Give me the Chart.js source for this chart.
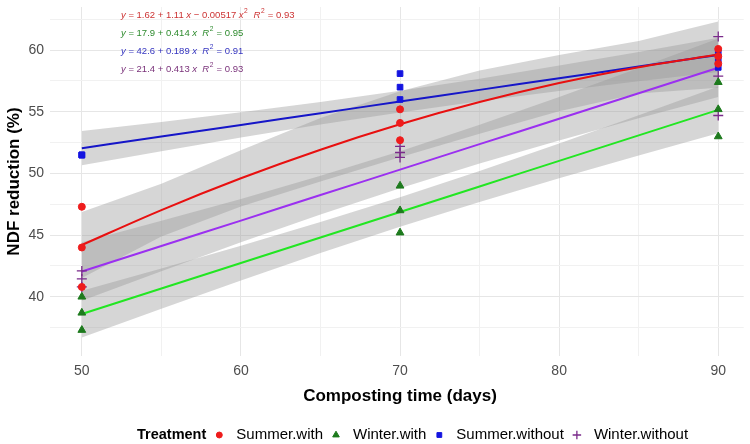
<!DOCTYPE html>
<html><head><meta charset="utf-8">
<script src="https://cdn.jsdelivr.net/npm/chart.js@4/dist/chart.umd.min.js"></script>
<style>html,body{margin:0;padding:0;background:#fff;}</style>
</head><body>
<canvas id="c" width="750" height="444"></canvas>
<script>
// ---- data ----
const treatments = ['Summer.with', 'Winter.with', 'Summer.without', 'Winter.without'];
const pointDays = [50, 50, 50, 70, 70, 70, 90, 90, 90];
const summerWithY   = [47.3, 44.0, 40.8, 55.2, 54.1, 52.7, 60.1, 59.5, 58.9];
const winterWithY   = [40.0, 38.7, 37.3, 49.0, 47.0, 45.2, 57.4, 55.2, 53.0];
const summerWithoutY = [51.5, 51.5, 51.5, 58.1, 57.0, 56.0, 59.8, 59.2, 58.6];
const winterWithoutY = [42.1, 41.45, 40.8, 52.2, 51.7, 51.3, 61.1, 57.9, 54.7];

const fitDays = [50, 55, 60, 65, 70, 75, 80, 85, 90];
const summerWithFit = [44.20, 47.03, 49.61, 51.93, 53.99, 55.79, 57.33, 58.62, 59.64];
const summerWithLo  = [41.52, 44.90, 47.33, 49.36, 51.31, 53.22, 55.05, 56.49, 56.96];
const summerWithHi  = [46.88, 49.16, 51.89, 54.50, 56.67, 58.36, 59.61, 60.75, 62.32];
const winterWithFit = [38.60, 40.67, 42.74, 44.81, 46.88, 48.95, 51.02, 53.09, 55.16];
const winterWithLo  = [36.70, 39.04, 41.33, 43.55, 45.68, 47.69, 49.61, 51.46, 53.26];
const winterWithHi  = [40.50, 42.30, 44.15, 46.07, 48.08, 50.21, 52.43, 54.72, 57.06];
const summerWithoutFit = [52.05, 53.00, 53.94, 54.89, 55.83, 56.78, 57.72, 58.67, 59.61];
const summerWithoutLo  = [50.66, 51.81, 52.91, 53.97, 54.95, 55.86, 56.69, 57.47, 58.22];
const summerWithoutHi  = [53.44, 54.18, 54.97, 55.80, 56.71, 57.69, 58.75, 59.86, 61.00];
const winterWithoutFit = [42.05, 44.12, 46.18, 48.25, 50.31, 52.38, 54.44, 56.51, 58.57];
const winterWithoutLo  = [39.68, 42.08, 44.42, 46.68, 48.81, 50.81, 52.68, 54.47, 56.20];
const winterWithoutHi  = [44.42, 46.16, 47.94, 49.82, 51.81, 53.95, 56.20, 58.55, 60.94];

const equations = [
  'y = 1.62 + 1.11 x \u2212 0.00517 x^2  R^2 = 0.93',
  'y = 17.9 + 0.414 x  R^2 = 0.95',
  'y = 42.6 + 0.189 x  R^2 = 0.91',
  'y = 21.4 + 0.413 x  R^2 = 0.93'
];
const xTickLabels = [50, 60, 70, 80, 90];
const yTickLabels = [40, 45, 50, 55, 60];
const xTitle = 'Composting time (days)';
const yTitle = 'NDF reduction (%)';
const legendTitle = 'Treatment';

// ---- styling ----
const FONT = '"Liberation Sans", Arial, sans-serif';
const pointColors = ['#ee1c1c', '#1d7a1d', '#1414e0', '#7a2a8a'];
const lineColors  = ['#e81010', '#22e622', '#1616c8', '#9b30f0'];
const eqColors    = ['#cc3333', '#2e8b2e', '#3535c0', '#7a327a'];
const pointStyles = ['circle', 'triangle', 'rect', 'cross'];
const pointRadii  = [3.5, 4.5, 4, 5];
const ptY = [summerWithY, winterWithY, summerWithoutY, winterWithoutY];
const fitY = [summerWithFit, winterWithFit, summerWithoutFit, winterWithoutFit];
const loY = [summerWithLo, winterWithLo, summerWithoutLo, winterWithoutLo];
const hiY = [summerWithHi, winterWithHi, summerWithoutHi, winterWithoutHi];

const zip = (xs, ys) => xs.map((x, i) => ({x, y: ys[i]}));
const datasets = [];
treatments.forEach((t, i) => {
  datasets.push({
    label: t, data: zip(pointDays, ptY[i]), showLine: false, order: 0,
    pointStyle: pointStyles[i], pointRadius: pointRadii[i],
    backgroundColor: pointColors[i], borderColor: pointColors[i],
    borderWidth: i === 3 ? 1.3 : 1
  });
});
treatments.forEach((t, i) => {
  datasets.push({
    label: t + ' fit', data: zip(fitDays, fitY[i]), showLine: true, order: 1,
    pointRadius: 0, borderColor: lineColors[i], borderWidth: 2,
    cubicInterpolationMode: 'monotone', fill: false
  });
});
treatments.forEach((t, i) => {
  datasets.push({
    label: t + ' hi', data: zip(fitDays, hiY[i]), showLine: true, order: 2,
    pointRadius: 0, borderWidth: 0, borderColor: 'rgba(0,0,0,0)',
    backgroundColor: 'rgba(153,153,153,0.4)', fill: '+1'
  });
  datasets.push({
    label: t + ' lo', data: zip(fitDays, loY[i]), showLine: true, order: 2,
    pointRadius: 0, borderWidth: 0, borderColor: 'rgba(0,0,0,0)', fill: false
  });
});

const xGrid = [], yGrid = [];
for (let v = 50; v <= 90; v += 5) xGrid.push(v);
for (let v = 37.5; v <= 62.5; v += 2.5) yGrid.push(v);

function drawRich(ctx, str, x, y, color, size) {
  const tokens = str.split(/(\^2|[xyR])/).filter(s => s.length);
  let cx = x;
  ctx.fillStyle = color;
  ctx.textBaseline = 'middle';
  ctx.textAlign = 'left';
  tokens.forEach(tk => {
    if (tk === '^2') {
      ctx.font = (size * 0.7) + 'px ' + FONT;
      ctx.fillText('2', cx + 0.5, y - size * 0.45);
      cx += ctx.measureText('2').width + 1;
    } else if (tk === 'x' || tk === 'y' || tk === 'R') {
      ctx.font = 'italic ' + size + 'px ' + FONT;
      ctx.fillText(tk, cx, y);
      cx += ctx.measureText(tk).width;
    } else {
      ctx.font = size + 'px ' + FONT;
      ctx.fillText(tk, cx, y);
      cx += ctx.measureText(tk).width;
    }
  });
}

const decor = {
  id: 'decor',
  afterDraw(chart) {
    const ctx = chart.ctx, a = chart.chartArea;
    ctx.save();
    ctx.fillStyle = '#000';
    ctx.font = 'bold 17px ' + FONT;
    ctx.textAlign = 'center'; ctx.textBaseline = 'middle';
    ctx.fillText(xTitle, 400, 396);
    ctx.save();
    ctx.translate(14, (a.top + a.bottom) / 2);
    ctx.rotate(-Math.PI / 2);
    ctx.fillText(yTitle, 0, 0);
    ctx.restore();
    equations.forEach((eq, i) => drawRich(ctx, eq, 121, 15 + i * 18, eqColors[i], 9.5));
    let lx = 137; const ly = 435;
    ctx.textBaseline = 'middle'; ctx.textAlign = 'left';
    ctx.font = 'bold 14.5px ' + FONT; ctx.fillStyle = '#000';
    ctx.fillText(legendTitle, lx, ly);
    lx += ctx.measureText(legendTitle).width + 13;
    treatments.forEach((t, i) => {
      ctx.fillStyle = pointColors[i]; ctx.strokeStyle = pointColors[i];
      ctx.lineWidth = i === 3 ? 1.3 : 1;
      Chart.helpers.drawPoint(ctx, {pointStyle: pointStyles[i], radius: pointRadii[i] * 0.85, rotation: 0, borderWidth: ctx.lineWidth}, lx, ly);
      lx += 17;
      ctx.font = '15px ' + FONT; ctx.fillStyle = '#000';
      ctx.fillText(t, lx, ly);
      lx += ctx.measureText(t).width + 13;
    });
    ctx.restore();
  }
};

new Chart(document.getElementById('c'), {
  type: 'scatter',
  data: {datasets},
  plugins: [decor],
  options: {
    responsive: false, animation: false,
    layout: {padding: {left: 0, right: 0, top: 7, bottom: 0}},
    plugins: {legend: {display: false}, tooltip: {enabled: false}},
    scales: {
      x: {
        type: 'linear', min: 48, max: 91.6,
        afterBuildTicks: s => { s.ticks = xGrid.map(v => ({value: v})); },
        afterFit: s => { s.height = 88; s.paddingLeft = 0; s.paddingRight = 0; },
        border: {display: false},
        grid: {
          drawTicks: false,
          color: c => (c.tick && xTickLabels.includes(c.tick.value)) ? '#e6e6e6' : '#f1f1f1',
          lineWidth: 1
        },
        ticks: {
          autoSkip: false, maxRotation: 0, padding: 7, color: '#4d4d4d',
          font: {family: FONT, size: 14},
          callback: v => xTickLabels.includes(v) ? String(v) : ''
        }
      },
      y: {
        type: 'linear', min: 35.2, max: 63.5,
        afterBuildTicks: s => { s.ticks = yGrid.map(v => ({value: v})); },
        afterFit: s => { s.width = 50; s.paddingTop = 0; s.paddingBottom = 0; },
        border: {display: false},
        grid: {
          drawTicks: false,
          color: c => (c.tick && yTickLabels.includes(c.tick.value)) ? '#e6e6e6' : '#f1f1f1',
          lineWidth: 1
        },
        ticks: {
          autoSkip: false, padding: 6, color: '#4d4d4d',
          font: {family: FONT, size: 14},
          callback: v => yTickLabels.includes(v) ? String(v) : ''
        }
      }
    }
  }
});
</script>
</body></html>
